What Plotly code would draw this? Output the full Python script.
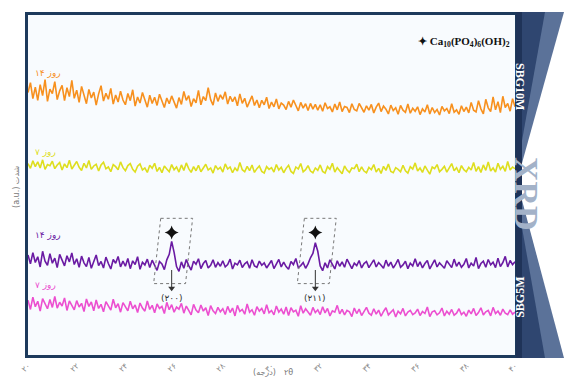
import plotly.graph_objects as go

# ---------------- data ----------------
two_theta = [round(20 + 0.1 * i, 1) for i in range(201)]

sbg10m_day14 = [
    77.2, 80.1, 75.4, 78.8, 74.9, 79.5, 76.3, 81.0, 74.6, 78.2, 76.9, 80.4, 75.1, 77.7, 79.3, 74.8, 78.6, 76.0, 80.8, 75.5,
    77.9, 74.3, 79.0, 76.4, 73.9, 78.1, 75.6, 77.3, 73.5, 76.8, 79.2, 74.7, 77.0, 75.2, 78.4, 73.8, 76.5, 74.4, 77.6, 75.0,
    73.6, 76.9, 74.8, 78.0, 73.2, 75.9, 74.1, 77.2, 75.3, 72.9, 76.4, 74.0, 75.8, 73.4, 76.7, 74.5, 72.8, 75.6, 73.9, 76.2,
    74.3, 72.6, 75.7, 73.7, 77.5, 74.9, 76.3, 73.1, 75.4, 74.2, 77.8, 73.6, 76.0, 74.8, 78.6, 75.1, 73.5, 77.1, 74.6, 76.5,
    75.2, 77.4, 73.8, 76.1, 74.5, 75.9, 73.3, 76.8, 74.0, 75.5, 72.9, 74.7, 76.2, 73.4, 75.0, 72.7, 74.9, 73.6, 75.8, 72.5,
    74.4, 73.0, 75.3, 72.4, 74.1, 73.5, 72.2, 74.6, 72.9, 75.0, 73.2, 71.8, 74.3, 72.6, 73.9, 71.9, 74.0, 72.3, 73.7, 72.0,
    73.6, 71.7, 74.2, 72.5, 73.0, 71.5, 73.8, 72.1, 74.4, 71.6, 73.1, 72.8, 71.3, 73.9, 72.2, 71.8, 74.0, 72.6, 71.4, 73.3,
    72.0, 73.7, 71.2, 72.9, 74.1, 71.6, 73.2, 72.3, 70.9, 73.5, 71.9, 72.7, 70.8, 73.4, 72.0, 71.4, 73.8, 71.1, 72.6, 71.7,
    73.0, 70.7, 72.4, 71.5, 73.6, 70.9, 72.8, 71.3, 72.2, 70.6, 73.1, 71.8, 72.5, 71.0, 73.9, 71.4, 72.1, 70.8, 73.3, 71.6,
    72.9, 71.2, 74.3, 72.0, 71.5, 74.8, 72.4, 70.9, 75.2, 72.7, 71.6, 75.9, 72.1, 74.5, 71.3, 76.1, 72.8, 74.0, 71.7, 75.4,
    73.0]

sbg10m_day7 = [
    56.3, 54.9, 57.1, 55.4, 56.8, 55.0, 57.4, 54.6, 56.0, 55.7, 57.0, 54.8, 55.9, 56.6, 54.4, 56.2, 55.1, 57.3, 54.7, 55.8,
    56.9, 55.2, 54.3, 56.4, 55.0, 57.2, 54.6, 55.6, 56.1, 54.1, 55.9, 56.7, 54.8, 55.3, 53.9, 56.0, 55.4, 54.5, 56.8, 55.1,
    54.2, 55.7, 56.3, 54.6, 53.8, 55.5, 56.2, 54.4, 55.0, 53.7, 55.8, 54.9, 56.4, 54.0, 55.2, 53.6, 55.6, 54.7, 53.9, 56.0,
    54.5, 55.3, 53.8, 55.9, 54.3, 56.5, 54.8, 53.7, 55.4, 54.2, 55.8, 53.9, 54.9, 56.1, 54.4, 55.0, 53.5, 55.7, 54.6, 55.2,
    53.8, 56.2, 54.7, 55.3, 53.6, 55.0, 54.1, 56.6, 54.5, 53.9, 55.5, 54.2, 55.9, 53.7, 54.8, 55.6, 54.0, 53.5, 55.4, 54.6,
    55.1, 53.8, 56.0, 54.4, 55.2, 53.6, 54.9, 55.8, 54.0, 53.4, 55.3, 54.7, 56.3, 53.9, 54.5, 55.7, 54.1, 53.6, 55.0, 54.3,
    55.9, 54.0, 53.5, 55.4, 54.6, 56.4, 53.8, 55.1, 54.2, 53.3, 55.6, 54.4, 53.7, 55.0, 54.8, 56.1, 53.9, 55.3, 54.1, 53.6,
    55.2, 54.5, 56.0, 53.8, 54.9, 53.4, 55.5, 54.3, 56.2, 54.0, 53.6, 55.1, 54.6, 53.9, 55.8, 54.2, 53.5, 55.4, 54.7, 56.5,
    54.1, 55.0, 53.7, 55.6, 54.4, 53.2, 55.3, 54.8, 56.0, 53.9, 54.6, 55.5, 53.8, 54.9, 56.3, 54.2, 55.1, 53.6, 55.7, 54.5,
    53.9, 55.2, 54.4, 56.6, 54.0, 55.4, 53.7, 55.9, 54.3, 56.8, 54.1, 55.0, 53.8, 56.4, 54.6, 55.5, 54.0, 56.9, 54.4, 55.3,
    54.8]

sbg5m_day14 = [
    29.4, 26.8, 30.1, 27.2, 28.9, 25.9, 30.5, 27.6, 26.4, 29.8, 27.0, 28.5, 25.7, 29.6, 27.9, 26.2, 29.2, 27.4, 30.0, 26.6,
    28.3, 25.8, 29.1, 27.1, 26.0, 28.7, 25.5, 27.8, 29.4, 26.3, 27.5, 25.6, 28.8, 26.9, 25.3, 28.1, 27.0, 29.0, 25.9, 27.6,
    26.1, 28.4, 25.4, 27.7, 26.6, 28.9, 25.2, 27.3, 26.5, 28.2, 25.7, 27.9, 26.2, 24.9, 27.5, 26.8, 25.1, 28.0, 29.6, 33.4,
    30.2, 26.0, 24.6, 27.4, 25.5, 28.1, 26.3, 25.0, 27.6, 26.7, 28.3, 25.4, 26.9, 27.8, 25.6, 26.4, 28.0, 25.8, 27.2, 26.1,
    27.7, 25.9, 26.6, 28.2, 25.3, 27.0, 26.5, 27.9, 25.7, 26.8, 27.4, 25.5, 28.0, 26.2, 25.8, 27.6, 26.4, 27.1, 25.6, 26.9,
    27.8, 25.4, 26.7, 28.1, 25.9, 27.3, 26.0, 25.2, 27.5, 26.6, 28.4, 25.7, 26.3, 27.2, 25.5, 26.8, 28.6, 29.9, 33.0, 30.5,
    26.2, 24.8, 27.1, 25.6, 28.0, 26.4, 25.3, 27.7, 26.1, 27.4, 25.8, 28.2, 26.6, 25.4, 27.0, 26.3, 27.8, 25.6, 26.9, 27.5,
    25.7, 26.8, 28.0, 25.9, 27.2, 26.4, 25.5, 27.9, 26.1, 27.3, 25.6, 26.7, 28.1, 25.8, 26.5, 27.6, 25.4, 27.0, 26.2, 28.3,
    26.0, 27.4, 25.6, 26.9, 27.8, 25.3, 26.6, 28.0, 25.9, 27.1, 26.3, 25.5, 27.7, 26.8, 25.7, 28.2, 26.1, 27.3, 25.8, 26.7,
    28.4, 25.6, 27.0, 26.2, 28.7, 25.4, 26.9, 27.6, 25.8, 28.1, 26.5, 27.3, 25.7, 28.5, 26.0, 27.2, 29.0, 25.9, 27.8, 26.6,
    27.4]

sbg5m_day7 = [
    16.1, 13.4, 17.0, 14.2, 15.8, 12.9, 16.6, 14.8, 13.6, 16.3, 14.0, 17.2, 13.8, 15.5, 14.4, 16.8, 13.1, 15.9, 14.6, 13.3,
    16.0, 14.1, 15.2, 12.8, 16.5, 14.3, 15.6, 13.0, 16.2, 13.7, 14.9, 12.7, 15.7, 14.5, 13.2, 16.4, 13.9, 15.1, 12.6, 15.4,
    14.2, 13.0, 15.8, 13.6, 14.7, 12.5, 15.3, 13.8, 12.9, 15.9, 13.4, 14.6, 12.4, 15.0, 13.7, 14.3, 12.2, 15.5, 13.3, 14.8,
    12.6, 14.1, 13.5, 15.2, 12.3, 14.4, 13.1, 11.8, 14.9, 13.2, 12.4, 14.7, 12.9, 13.9, 11.6, 14.5, 13.0, 12.2, 14.0, 12.7,
    13.6, 11.9, 14.3, 12.5, 13.8, 11.5, 14.6, 12.8, 13.4, 12.0, 15.0, 12.6, 13.3, 11.7, 14.2, 12.9, 13.7, 12.1, 14.8, 12.4,
    13.1, 11.8, 14.4, 12.6, 13.5, 12.0, 14.1, 11.6, 13.9, 12.7, 13.2, 11.4, 14.5, 12.3, 13.6, 12.8, 11.7, 14.0, 12.5, 13.3,
    11.9, 14.2, 12.4, 13.7, 11.5, 13.0, 12.6, 14.6, 12.1, 13.4, 11.8, 13.1, 12.7, 11.3, 13.8, 12.2, 13.5, 11.6, 12.9, 14.0,
    12.3, 11.7, 13.6, 12.0, 13.2, 11.4, 12.8, 13.9, 11.8, 12.5, 13.3, 11.2, 12.9, 12.1, 13.7, 11.5, 12.6, 13.1, 11.9, 12.4,
    13.5, 11.6, 12.8, 12.2, 14.1, 11.3, 12.7, 13.0, 11.8, 12.4, 13.8, 11.5, 12.9, 12.0, 13.4, 11.7, 12.3, 13.6, 11.9, 12.6,
    11.4, 13.2, 12.1, 13.7, 11.6, 12.5, 13.9, 11.8, 12.7, 13.1, 11.5, 14.0, 12.2, 12.9, 11.7, 13.5, 12.3, 11.9, 13.3, 12.0,
    12.6]

series_labels = ["روز ۱۴", "روز ۷", "روز ۱۴", "روز ۷"]
series_colors = ["#f7901e", "#dede1e", "#6a1aa3", "#ec4fd0"]

peak_positions = [25.9, 31.8]
peak_labels = ["(۲۰۰)", "(۲۱۱)"]
peak_star_y = 36.0

tick_vals = [20, 22, 24, 26, 28, 30, 32, 34, 36, 38, 40]
tick_text = ["۲۰", "۲۲", "۲۴", "۲۶", "۲۸", "۳۰", "۳۲", "۳۴", "۳۶", "۳۸", "۴۰"]

# ---------------- figure ----------------
W, H = 565, 387
ML, MR, MT, MB = 28, 50, 12, 32
PW, PH = W - ML - MR, H - MT - MB


def px(xp):
    return (xp - ML) / PW


def py(yp):
    return (H - MB - yp) / PH


fig = go.Figure()
all_series = [sbg10m_day14, sbg10m_day7, sbg5m_day14, sbg5m_day7]
for vals, col in zip(all_series, series_colors):
    fig.add_trace(go.Scatter(x=two_theta, y=vals, mode="lines",
                             line=dict(color=col, width=1.6),
                             showlegend=False, hoverinfo="skip"))

fig.add_trace(go.Scatter(x=peak_positions, y=[peak_star_y] * len(peak_positions),
                         mode="markers",
                         marker=dict(symbol="star-diamond", size=10, color="#111"),
                         showlegend=False, hoverinfo="skip"))
fig.add_trace(go.Scatter(x=peak_positions, y=[19.6] * len(peak_positions),
                         mode="markers",
                         marker=dict(symbol="triangle-down", size=6, color="#333"),
                         showlegend=False, hoverinfo="skip"))

shapes = []
annotations = []

for pk, lab in zip(peak_positions, peak_labels):
    path = (f"M {pk-0.45},40.2 L {pk+0.86},40.2 L {pk+0.57},21.0 "
            f"L {pk-0.74},21.0 Z")
    shapes.append(dict(type="path", path=path, xref="x", yref="y",
                       line=dict(color="#777", width=1, dash="dot")))
    shapes.append(dict(type="line", xref="x", yref="y", x0=pk, x1=pk,
                       y0=25.0, y1=20.0, line=dict(color="#333", width=1)))
    annotations.append(dict(x=pk, y=16.9, xref="x", yref="y", text=lab,
                            showarrow=False, yanchor="middle",
                            font=dict(size=9, color="#333", family="DejaVu Sans")))

label_y_px = [63, 150, 234, 291]
for lab, col, yp in zip(series_labels, series_colors, label_y_px):
    annotations.append(dict(x=px(33), y=py(yp), xref="paper", yref="paper",
                            text=lab, showarrow=False, xanchor="left",
                            font=dict(size=9, color=col, family="DejaVu Sans")))

annotations.append(dict(x=px(512), y=py(30), xref="paper", yref="paper",
                        text="<b>✦ Ca<sub>10</sub>(PO<sub>4</sub>)<sub>6</sub>(OH)<sub>2</sub></b>",
                        showarrow=False, xanchor="right",
                        font=dict(size=11, color="#111", family="Liberation Serif")))

annotations.append(dict(x=px(264), y=py(379), xref="paper", yref="paper",
                        text="(درجه)", showarrow=False,
                        font=dict(size=8, color="#777", family="DejaVu Sans")))
annotations.append(dict(x=px(288), y=py(379), xref="paper", yref="paper",
                        text="۲θ", showarrow=False,
                        font=dict(size=8, color="#777", family="DejaVu Sans")))
annotations.append(dict(x=px(10), y=py(185), xref="paper", yref="paper",
                        text="(a.u.) شدت", showarrow=False, textangle=-90,
                        font=dict(size=8, color="#777", family="DejaVu Sans")))

navy = "#2f4670"
shapes.append(dict(type="path", xref="paper", yref="paper",
                   path=f"M {px(516)},{py(9)} L {px(564)},{py(9)} L {px(521)},{py(165)} L {px(516)},{py(165)} Z",
                   fillcolor="#5b7299", line=dict(width=0)))
shapes.append(dict(type="path", xref="paper", yref="paper",
                   path=f"M {px(516)},{py(9)} L {px(545)},{py(9)} L {px(520)},{py(150)} L {px(516)},{py(150)} Z",
                   fillcolor=navy, line=dict(width=0)))
shapes.append(dict(type="path", xref="paper", yref="paper",
                   path=f"M {px(516)},{py(195)} L {px(521)},{py(195)} L {px(564)},{py(358)} L {px(516)},{py(358)} Z",
                   fillcolor="#5b7299", line=dict(width=0)))
shapes.append(dict(type="path", xref="paper", yref="paper",
                   path=f"M {px(516)},{py(215)} L {px(520)},{py(215)} L {px(545)},{py(358)} L {px(516)},{py(358)} Z",
                   fillcolor=navy, line=dict(width=0)))
shapes.append(dict(type="rect", xref="paper", yref="paper",
                   x0=px(516), x1=px(522), y0=py(358), y1=py(9),
                   fillcolor="#1f3358", line=dict(width=0)))

annotations.append(dict(x=px(529), y=py(58), xref="paper", yref="paper",
                        text="<b>SBG10M</b>", showarrow=False, textangle=90,
                        font=dict(size=12, color="white", family="Liberation Serif")))
annotations.append(dict(x=px(529), y=py(320), xref="paper", yref="paper",
                        text="<b>SBG5M</b>", showarrow=False, textangle=-90,
                        font=dict(size=12, color="white", family="Liberation Serif")))
annotations.append(dict(x=px(547), y=py(192), xref="paper", yref="paper",
                        text="<b>XRD</b>", showarrow=False, textangle=90,
                        font=dict(size=34, color="#a3b2c8", family="Liberation Serif")))

fig.update_layout(
    width=W, height=H,
    margin=dict(l=ML, r=MR, t=MT, b=MB),
    paper_bgcolor="white", plot_bgcolor="#f8fbfe",
    shapes=shapes, annotations=annotations,
    xaxis=dict(range=[20, 40], tickvals=tick_vals, ticktext=tick_text,
               tickangle=-45, tickfont=dict(size=8, color="#888", family="DejaVu Sans"),
               showgrid=False, zeroline=False, showline=True, mirror=True,
               linecolor="#1d3a5c", linewidth=3, ticks=""),
    yaxis=dict(range=[0, 100], showticklabels=False, showgrid=False,
               zeroline=False, showline=True, mirror=True,
               linecolor="#1d3a5c", linewidth=3, ticks=""),
)

fig.write_html("out.html", config={"displayModeBar": False},
               post_script="document.body.style.margin='0';")
